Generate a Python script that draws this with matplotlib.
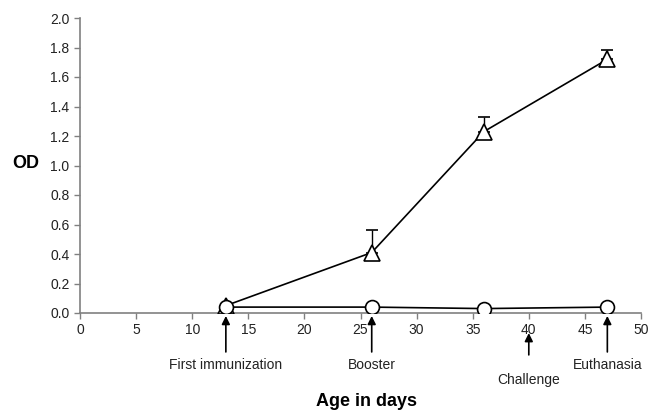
import matplotlib
matplotlib.use('Agg')
import matplotlib.pyplot as plt

plt.rcParams['font.family'] = ['Liberation Sans', 'DejaVu Sans']

# data
days = [13, 26, 36, 47]
od_tri = [0.05, 0.41, 1.23, 1.72]
err_tri = [0.0, 0.15, 0.10, 0.06]
od_circ = [0.04, 0.04, 0.03, 0.04]

# events below the axis
event_x = [13, 26, 40, 47]
event_lab = ['First immunization', 'Booster', 'Challenge', 'Euthanasia']

fig = plt.figure(figsize=(6.52, 4.12), dpi=100)
ax = fig.add_axes([80/652, 1-313/412, 561/652, 295/412])

ax.errorbar(days, od_tri, yerr=[[0]*4, err_tri], color='black', lw=1.2,
            marker='^', ms=11, mfc='white', mec='black', mew=1.2,
            capsize=4, elinewidth=1, capthick=1, zorder=3)
ax.plot(days, od_circ, color='black', lw=1.2, marker='o', ms=10,
        mfc='white', mec='black', mew=1.2, zorder=4)

ax.set_xlim(0, 50)
ax.set_ylim(0, 2.0)
ax.set_xticks(range(0, 51, 5))
ax.set_yticks([i/5 for i in range(11)])
ax.set_yticklabels(['%.1f' % (i/5) for i in range(11)])
for s in ['top', 'right']:
    ax.spines[s].set_visible(False)
for s in ['left', 'bottom']:
    ax.spines[s].set_color('#808080')
    ax.spines[s].set_linewidth(1.2)
ax.tick_params(colors='#808080', labelcolor='#222222', labelsize=10,
               direction='out', length=4, width=1)

ax.set_ylabel('OD', rotation=0, fontsize=13, fontweight='bold', va='center')
ax.yaxis.set_label_coords(-0.097, 0.508)
ax.set_xlabel('Age in days', fontsize=13, fontweight='bold')
ax.xaxis.set_label_coords(0.51, -0.272)

# arrows + labels
for x, lab in zip(event_x, event_lab):
    if lab == 'Challenge':
        tip, tail, ty = -0.068, -0.142, -0.227
    else:
        tip, tail, ty = -0.010, -0.132, -0.176
    ax.annotate('', xy=(x, tip), xytext=(x, tail),
                xycoords=('data', 'axes fraction'),
                textcoords=('data', 'axes fraction'),
                arrowprops=dict(arrowstyle='-|>', color='black', lw=1.2,
                                mutation_scale=12, shrinkA=0, shrinkB=0),
                annotation_clip=False)
    ax.text(x, ty, lab, transform=ax.get_xaxis_transform(),
            ha='center', va='center', fontsize=10, color='#222222')

fig.savefig('out.png', dpi=100)
